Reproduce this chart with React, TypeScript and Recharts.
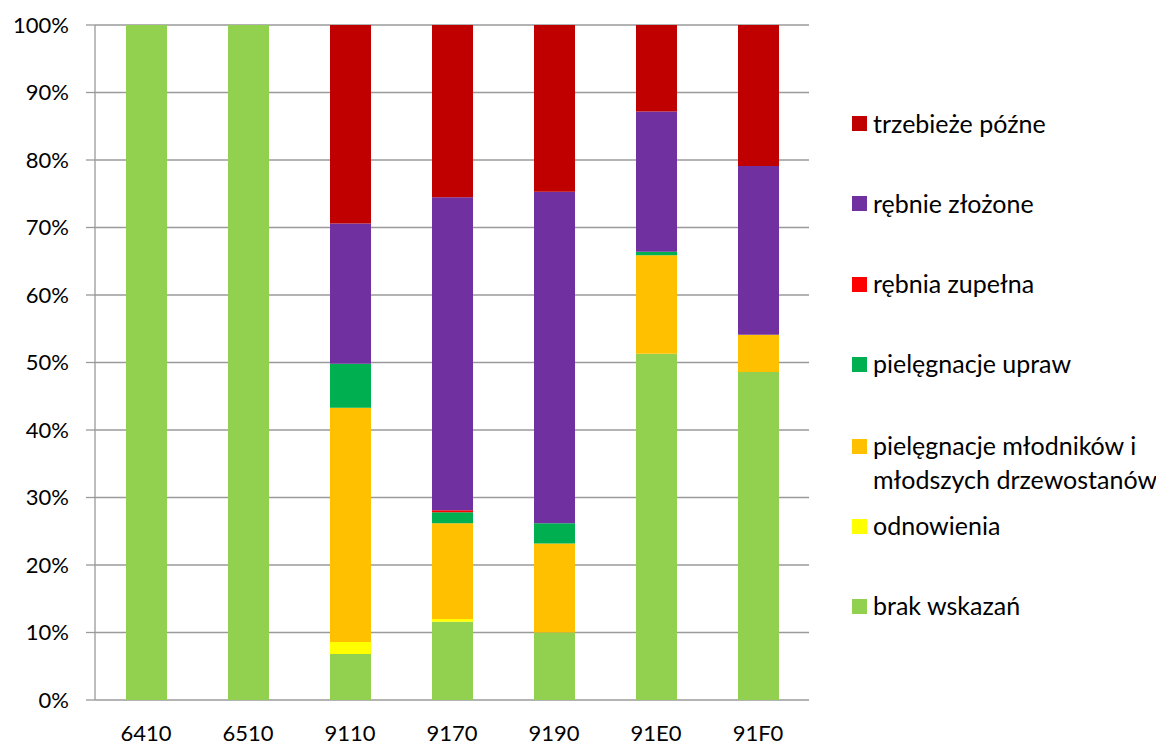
import React from 'react';
import { BarChart, Bar, XAxis, YAxis, CartesianGrid, Legend } from 'recharts';

const categories = ['6410', '6510', '9110', '9170', '9190', '91E0', '91F0'];
const brakWskazan = [100, 100, 6.8, 11.6, 10.0, 51.3, 48.6];
const odnowienia = [0, 0, 1.8, 0.4, 0, 0, 0];
const pielegnacjeMlodnikow = [0, 0, 34.7, 14.2, 13.2, 14.6, 5.5];
const pielegnacjeUpraw = [0, 0, 6.5, 1.6, 3.0, 0.5, 0];
const rebniaZupelna = [0, 0, 0, 0.3, 0, 0, 0];
const rebnieZlozone = [0, 0, 20.8, 46.4, 49.1, 20.8, 25.0];
const trzebiezePozne = [0, 0, 29.4, 25.5, 24.7, 12.8, 20.9];
const yTicks = [0, 0.1, 0.2, 0.3, 0.4, 0.5, 0.6, 0.7, 0.8, 0.9, 1];
const boundaryTicks = [0, 1, 2, 3, 4, 5, 6, 7];

const series = [
  { key: 'brak', name: 'brak wskazań', values: brakWskazan, color: '#92D050' },
  { key: 'odn', name: 'odnowienia', values: odnowienia, color: '#FFFF00' },
  { key: 'mlod', name: 'pielęgnacje młodników i młodszych drzewostanów', values: pielegnacjeMlodnikow, color: '#FFC000' },
  { key: 'upraw', name: 'pielęgnacje upraw', values: pielegnacjeUpraw, color: '#00B050' },
  { key: 'zup', name: 'rębnia zupełna', values: rebniaZupelna, color: '#FF0000' },
  { key: 'zloz', name: 'rębnie złożone', values: rebnieZlozone, color: '#7030A0' },
  { key: 'trzeb', name: 'trzebieże późne', values: trzebiezePozne, color: '#C00000' },
];

const data = categories.map((c, i) => {
  const row: Record<string, any> = { cat: c };
  series.forEach((s) => {
    row[s.key] = s.values[i];
  });
  return row;
});

const FONT = 'Lato, "Open Sans", sans-serif';

const legendLayout = [
  { key: 'trzeb', center: 123.5, lines: ['trzebieże późne'] },
  { key: 'zloz', center: 203.5, lines: ['rębnie złożone'] },
  { key: 'zup', center: 284, lines: ['rębnia zupełna'] },
  { key: 'upraw', center: 364, lines: ['pielęgnacje upraw'] },
  { key: 'mlod', center: 446, lines: ['pielęgnacje młodników i', 'młodszych drzewostanów'] },
  { key: 'odn', center: 526, lines: ['odnowienia'] },
  { key: 'brak', center: 606, lines: ['brak wskazań'] },
];

const renderLegend = () => (
  <div style={{ position: 'relative', width: 304, height: 745 }}>
    {legendLayout.map((item) => {
      const s = series.find((x) => x.key === item.key)!;
      return (
        <div key={item.key} style={{ position: 'absolute', left: 0, top: item.center }}>
          <div
            style={{
              position: 'absolute',
              left: 0,
              top: -7.5,
              width: 15,
              height: 15,
              background: s.color,
            }}
          />
          <div
            style={{
              position: 'absolute',
              left: 21,
              top: -18,
              whiteSpace: 'nowrap',
              fontFamily: FONT,
              fontSize: 25,
              lineHeight: '34px',
              color: '#000',
            }}
          >
            {item.lines.map((l, i) => (
              <div key={i}>{l}</div>
            ))}
          </div>
        </div>
      );
    })}
  </div>
);

export default function App() {
  return (
    <div style={{ position: 'absolute', left: 0, top: 0, width: 1156, height: 745, background: '#fff' }}>
      <BarChart
        width={1156}
        height={745}
        data={data}
        stackOffset="expand"
        barSize={41}
        margin={{ top: 25, right: 347, bottom: 0, left: 0 }}
      >
        <CartesianGrid horizontal vertical={false} stroke="#9A9A9A" strokeWidth={1.3} />
        <XAxis
          xAxisId="bounds"
          type="number"
          dataKey={() => 0}
          domain={[0, 7]}
          ticks={boundaryTicks}
          tickFormatter={() => ''}
          height={0}
          tickSize={8}
          axisLine={{ stroke: '#9A9A9A', strokeWidth: 1.3 }}
          tickLine={{ stroke: '#9A9A9A', strokeWidth: 1.3 }}
          allowDataOverflow
        />
        <XAxis
          dataKey="cat"
          height={45}
          axisLine={false}
          tickLine={false}
          tickMargin={19}
          tick={{ fontFamily: FONT, fontSize: 22, fill: '#000' }}
          interval={0}
        />
        <YAxis
          width={95}
          ticks={yTicks}
          domain={[0, 1]}
          tickFormatter={(v: number) => `${Math.round(v * 100)}%`}
          tickSize={9}
          tickMargin={17}
          axisLine={{ stroke: '#9A9A9A', strokeWidth: 1.3 }}
          tickLine={{ stroke: '#9A9A9A', strokeWidth: 1.3 }}
          tick={{ fontFamily: FONT, fontSize: 22, fill: '#000' }}
          interval={0}
        />
        <Legend
          layout="horizontal"
          verticalAlign="middle"
          align="center"
          content={renderLegend}
          wrapperStyle={{ position: 'absolute', left: 852, top: 0, width: 304, height: 745 }}
        />
        {series.map((s) => (
          <Bar
            key={s.key}
            dataKey={s.key}
            name={s.name}
            stackId="a"
            fill={s.color}
            isAnimationActive={false}
          />
        ))}
      </BarChart>
    </div>
  );
}
